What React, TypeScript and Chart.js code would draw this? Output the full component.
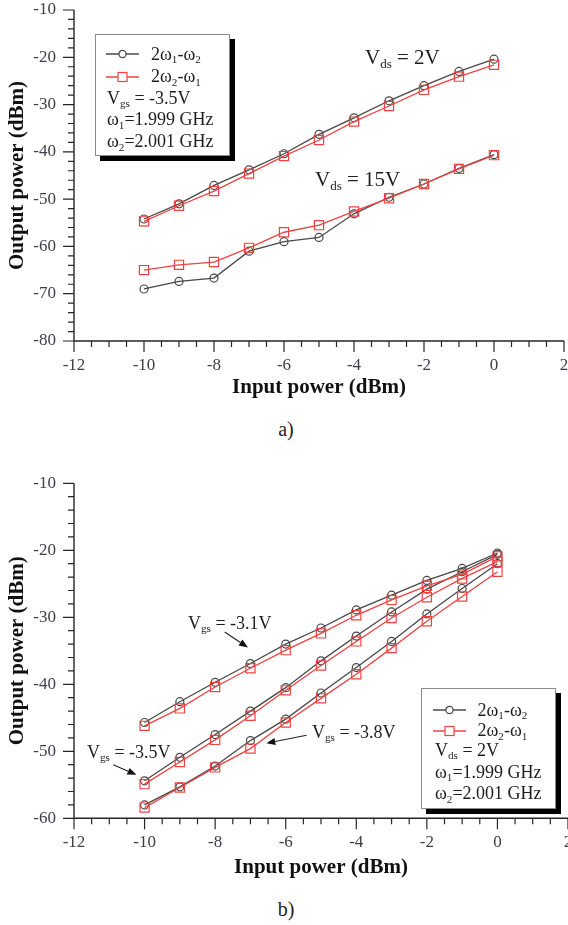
import React, { useEffect, useRef } from 'react';
import { Chart, registerables } from 'chart.js';

Chart.register(...registerables);

// ---------- data ----------
const inputPower = [-10, -9, -8, -7, -6, -5, -4, -3, -2, -1, 0];
const xTickValues = [-12, -10, -8, -6, -4, -2, 0, 2];
const yTickValuesA = [-80, -70, -60, -50, -40, -30, -20, -10];
const yTickValuesB = [-60, -50, -40, -30, -20, -10];

// (a) Vgs = -3.5V
const aVds2Im1 = [-54.2, -51.0, -47.1, -43.8, -40.4, -36.3, -32.8, -29.2, -26.0, -23.0, -20.4];
const aVds2Im2 = [-54.7, -51.4, -48.3, -44.6, -40.9, -37.5, -33.6, -30.3, -26.9, -24.1, -21.6];
const aVds15Im1 = [-69.0, -67.4, -66.7, -61.0, -59.0, -58.1, -53.1, -49.6, -46.8, -43.5, -40.6];
const aVds15Im2 = [-65.0, -63.9, -63.3, -60.3, -57.0, -55.5, -52.6, -49.8, -46.8, -43.6, -40.7];

// (b) Vds = 2V
const bVgs31Im1 = [-45.7, -42.6, -39.7, -36.9, -34.0, -31.6, -28.9, -26.7, -24.5, -22.7, -20.4];
const bVgs31Im2 = [-46.2, -43.6, -40.4, -37.6, -34.9, -32.4, -29.7, -27.4, -25.3, -23.6, -20.9];
const bVgs35Im1 = [-54.4, -50.9, -47.5, -44.0, -40.5, -36.5, -32.8, -29.2, -25.8, -23.2, -20.6];
const bVgs35Im2 = [-54.9, -51.6, -48.3, -44.7, -40.9, -37.2, -33.6, -30.1, -27.0, -24.2, -21.7];
const bVgs38Im1 = [-58.0, -55.3, -52.2, -48.4, -45.2, -41.3, -37.5, -33.6, -29.5, -25.7, -22.0];
const bVgs38Im2 = [-58.4, -55.4, -52.4, -49.6, -45.7, -42.1, -38.5, -34.6, -30.6, -26.9, -23.2];

// annotation arrows for (b), in data coordinates [x, y]
const arrowsB = [
  { from: [-7.73, -32.2], to: [-7.07, -34.5] },
  { from: [-10.89, -52.0], to: [-10.23, -53.5] },
  { from: [-5.41, -47.6], to: [-6.55, -48.8] },
];

// ---------- styles ----------
const FONT = "'Liberation Serif', 'Times New Roman', serif";
const BLACK = '#484848';
const RED = '#f04242';
const TICK = '#3e3e4c';

const axisPlugin = {
  id: 'sciAxes',
  afterDraw(chart: any) {
    const { ctx, chartArea, scales } = chart;
    const xs = scales.x;
    const ys = scales.y;
    ctx.save();
    ctx.strokeStyle = '#262626';
    ctx.lineWidth = 1.4;
    ctx.beginPath();
    ctx.moveTo(chartArea.left, chartArea.top);
    ctx.lineTo(chartArea.left, chartArea.bottom);
    ctx.lineTo(chartArea.right, chartArea.bottom);
    ctx.stroke();
    ctx.lineWidth = 1.2;
    ctx.beginPath();
    for (let v = xs.min; v <= xs.max + 1e-9; v += 0.5) {
      const px = xs.getPixelForValue(v);
      const major = Math.abs(v / 2 - Math.round(v / 2)) < 1e-6;
      const len = major ? 11 : 6;
      ctx.moveTo(px, chartArea.bottom);
      ctx.lineTo(px, chartArea.bottom + len);
    }
    for (let v = ys.min; v <= ys.max + 1e-9; v += 2) {
      const py = ys.getPixelForValue(v);
      const major = Math.abs(v / 10 - Math.round(v / 10)) < 1e-6;
      const len = major ? 11 : 6;
      ctx.moveTo(chartArea.left, py);
      ctx.lineTo(chartArea.left - len, py);
    }
    ctx.stroke();
    ctx.restore();
  },
};

function makeArrowPlugin(arrows: any[]) {
  return {
    id: 'arrows',
    afterDatasetsDraw(chart: any) {
      const { ctx, scales } = chart;
      ctx.save();
      ctx.strokeStyle = '#222';
      ctx.fillStyle = '#111';
      ctx.lineWidth = 1.1;
      arrows.forEach((a) => {
        const x1 = scales.x.getPixelForValue(a.from[0]);
        const y1 = scales.y.getPixelForValue(a.from[1]);
        const x2 = scales.x.getPixelForValue(a.to[0]);
        const y2 = scales.y.getPixelForValue(a.to[1]);
        const ang = Math.atan2(y2 - y1, x2 - x1);
        const L = 9;
        const W = 3.5;
        const bx = x2 - L * Math.cos(ang);
        const by = y2 - L * Math.sin(ang);
        ctx.beginPath();
        ctx.moveTo(x1, y1);
        ctx.lineTo(bx, by);
        ctx.stroke();
        ctx.beginPath();
        ctx.moveTo(x2, y2);
        ctx.lineTo(bx + W * Math.sin(ang), by - W * Math.cos(ang));
        ctx.lineTo(bx - W * Math.sin(ang), by + W * Math.cos(ang));
        ctx.closePath();
        ctx.fill();
      });
      ctx.restore();
    },
  };
}

type Series = { values: number[]; kind: 'im1' | 'im2' };

function Plot(props: {
  top: number;
  height: number;
  series: Series[];
  yMin: number;
  yMax: number;
  yTicks: number[];
  padTop: number;
  padRight: number;
  xAxisHeight: number;
  arrows: any[];
}) {
  const ref = useRef<HTMLCanvasElement>(null);
  useEffect(() => {
    const { series, yMin, yMax, yTicks, padTop, padRight, xAxisHeight, arrows } = props;
    // red drawn on top -> put im2 first (Chart.js draws index 0 last)
    const ordered = [...series.filter((s) => s.kind === 'im2'), ...series.filter((s) => s.kind === 'im1')];
    const datasets = ordered.map((s) => {
      const isRed = s.kind === 'im2';
      return {
        data: inputPower.map((x, i) => ({ x, y: s.values[i] })),
        borderColor: isRed ? RED : BLACK,
        borderWidth: 1.3,
        pointStyle: isRed ? 'rect' : 'circle',
        pointRadius: isRed ? 6.5 : 4,
        pointBorderWidth: 1.2,
        pointBorderColor: isRed ? RED : BLACK,
        pointBackgroundColor: 'rgba(255,255,255,0)',
        fill: false,
        tension: 0,
      };
    });
    const chart = new Chart(ref.current as HTMLCanvasElement, {
      type: 'line',
      data: { datasets } as any,
      options: {
        animation: false,
        responsive: false,
        maintainAspectRatio: false,
        layout: { autoPadding: false, padding: { left: 0, right: padRight, top: padTop, bottom: 0 } },
        plugins: { legend: { display: false }, tooltip: { enabled: false } },
        scales: {
          x: {
            type: 'linear',
            min: -12,
            max: 2,
            grid: { display: false, drawTicks: false },
            border: { display: false },
            afterBuildTicks: (s: any) => {
              s.ticks = xTickValues.map((v) => ({ value: v }));
            },
            afterFit: (s: any) => {
              s.height = xAxisHeight;
              s.paddingLeft = 0;
              s.paddingRight = 0;
            },
            ticks: {
              padding: 14,
              color: TICK,
              font: { family: FONT, size: 17 },
              maxRotation: 0,
              autoSkip: false,
            },
            title: {
              display: true,
              text: 'Input power (dBm)',
              color: '#111',
              font: { family: FONT, size: 21, weight: 'bold' },
              padding: { top: 0, bottom: 0 },
            },
          },
          y: {
            type: 'linear',
            min: yMin,
            max: yMax,
            grid: { display: false, drawTicks: false },
            border: { display: false },
            afterBuildTicks: (s: any) => {
              s.ticks = yTicks.map((v) => ({ value: v }));
            },
            afterFit: (s: any) => {
              s.width = 74;
              s.paddingTop = 0;
              s.paddingBottom = 0;
            },
            ticks: {
              padding: 18,
              color: TICK,
              font: { family: FONT, size: 17 },
              autoSkip: false,
            },
            title: {
              display: true,
              text: 'Output power (dBm)',
              color: '#111',
              font: { family: FONT, size: 21, weight: 'bold' },
              padding: { top: 5, bottom: 0 },
            },
          },
        },
      } as any,
      plugins: [axisPlugin, makeArrowPlugin(arrows)],
    });
    return () => chart.destroy();
  }, []);
  return (
    <canvas
      ref={ref}
      width={568}
      height={props.height}
      style={{ position: 'absolute', left: 0, top: props.top, width: 568, height: props.height }}
    />
  );
}

function Sub({ children }: { children: React.ReactNode }) {
  return (
    <span style={{ fontSize: '0.62em', position: 'relative', top: '0.3em' }}>{children}</span>
  );
}

function Txt(props: { left: number; cy: number; size: number; children: React.ReactNode }) {
  return (
    <div
      style={{
        position: 'absolute',
        left: props.left,
        top: props.cy - 0.5065 * props.size,
        fontFamily: FONT,
        fontSize: props.size,
        lineHeight: 1,
        whiteSpace: 'nowrap',
        color: '#1e1e1e',
      }}
    >
      {props.children}
    </div>
  );
}

function Sample({ left, cy, kind }: { left: number; cy: number; kind: 'im1' | 'im2' }) {
  const c = kind === 'im1' ? BLACK : RED;
  return (
    <svg
      width={34}
      height={14}
      style={{ position: 'absolute', left, top: cy - 7, overflow: 'visible' }}
    >
      <line x1={0} y1={7} x2={33} y2={7} stroke={c} strokeWidth={1.3} />
      {kind === 'im1' ? (
        <circle cx={16.5} cy={7} r={3.6} fill="white" stroke={c} strokeWidth={1.2} />
      ) : (
        <rect x={12} y={2.5} width={9} height={9} fill="white" stroke={c} strokeWidth={1.2} />
      )}
    </svg>
  );
}

function LegendBox(props: {
  left: number;
  top: number;
  width: number;
  height: number;
  rows: number[];
  sampleLeft: number;
  textLeft: number;
  infoLeft: number;
  info: React.ReactNode[];
}) {
  const { left, top, width, height, rows, sampleLeft, textLeft, infoLeft, info } = props;
  return (
    <div
      style={{
        position: 'absolute',
        left,
        top,
        width,
        height,
        boxSizing: 'border-box',
        border: '1px solid #8a8a8a',
        background: '#fff',
        boxShadow: '5px 5px 0 0 #000',
      }}
    >
      <Sample left={sampleLeft} cy={rows[0]} kind="im1" />
      <Sample left={sampleLeft} cy={rows[1]} kind="im2" />
      <Txt left={textLeft} cy={rows[0]} size={18}>
        2ω<Sub>1</Sub>-ω<Sub>2</Sub>
      </Txt>
      <Txt left={textLeft} cy={rows[1]} size={18}>
        2ω<Sub>2</Sub>-ω<Sub>1</Sub>
      </Txt>
      {info.map((n, i) => (
        <Txt key={i} left={infoLeft} cy={rows[i + 2]} size={18}>
          {n}
        </Txt>
      ))}
    </div>
  );
}

export default function App() {
  return (
    <div style={{ position: 'absolute', left: 0, top: 0, width: 568, height: 925, background: '#fff', overflow: 'hidden' }}>
      <Plot
        top={0}
        height={400}
        series={[
          { values: aVds2Im1, kind: 'im1' },
          { values: aVds2Im2, kind: 'im2' },
          { values: aVds15Im1, kind: 'im1' },
          { values: aVds15Im2, kind: 'im2' },
        ]}
        yMin={-80}
        yMax={-10}
        yTicks={yTickValuesA}
        padTop={10}
        padRight={4}
        xAxisHeight={59}
        arrows={[]}
      />
      <Plot
        top={460}
        height={420}
        series={[
          { values: bVgs31Im1, kind: 'im1' },
          { values: bVgs31Im2, kind: 'im2' },
          { values: bVgs35Im1, kind: 'im1' },
          { values: bVgs35Im2, kind: 'im2' },
          { values: bVgs38Im1, kind: 'im1' },
          { values: bVgs38Im2, kind: 'im2' },
        ]}
        yMin={-60}
        yMax={-10}
        yTicks={yTickValuesB}
        padTop={23.3}
        padRight={0}
        xAxisHeight={61.7}
        arrows={arrowsB}
      />

      {/* legend (a) */}
      <LegendBox
        left={95}
        top={34}
        width={135}
        height={122}
        rows={[19, 41.5, 62.7, 84.3, 106.5]}
        sampleLeft={10}
        textLeft={55}
        infoLeft={11}
        info={[
          <>V<Sub>gs</Sub> = -3.5V</>,
          <>ω<Sub>1</Sub>=1.999 GHz</>,
          <>ω<Sub>2</Sub>=2.001 GHz</>,
        ]}
      />
      {/* legend (b) */}
      <LegendBox
        left={421}
        top={688}
        width={135}
        height={121}
        rows={[21, 41.5, 61, 83, 104.5]}
        sampleLeft={10.5}
        textLeft={55.5}
        infoLeft={13}
        info={[
          <>V<Sub>ds</Sub> = 2V</>,
          <>ω<Sub>1</Sub>=1.999 GHz</>,
          <>ω<Sub>2</Sub>=2.001 GHz</>,
        ]}
      />

      {/* annotations (a) */}
      <Txt left={365} cy={58} size={21}>
        V<Sub>ds</Sub> = 2V
      </Txt>
      <Txt left={315} cy={180} size={21}>
        V<Sub>ds</Sub> = 15V
      </Txt>

      {/* annotations (b) */}
      <Txt left={188} cy={623} size={18}>
        V<Sub>gs</Sub> = -3.1V
      </Txt>
      <Txt left={87} cy={752} size={18}>
        V<Sub>gs</Sub> = -3.5V
      </Txt>
      <Txt left={312} cy={732} size={18}>
        V<Sub>gs</Sub> = -3.8V
      </Txt>

      {/* captions */}
      <div style={{ position: 'absolute', left: 236, top: 419, width: 100, textAlign: 'center', fontFamily: FONT, fontSize: 20, lineHeight: 1, color: '#1e1e1e' }}>
        a)
      </div>
      <div style={{ position: 'absolute', left: 236, top: 899, width: 100, textAlign: 'center', fontFamily: FONT, fontSize: 20, lineHeight: 1, color: '#1e1e1e' }}>
        b)
      </div>
    </div>
  );
}
